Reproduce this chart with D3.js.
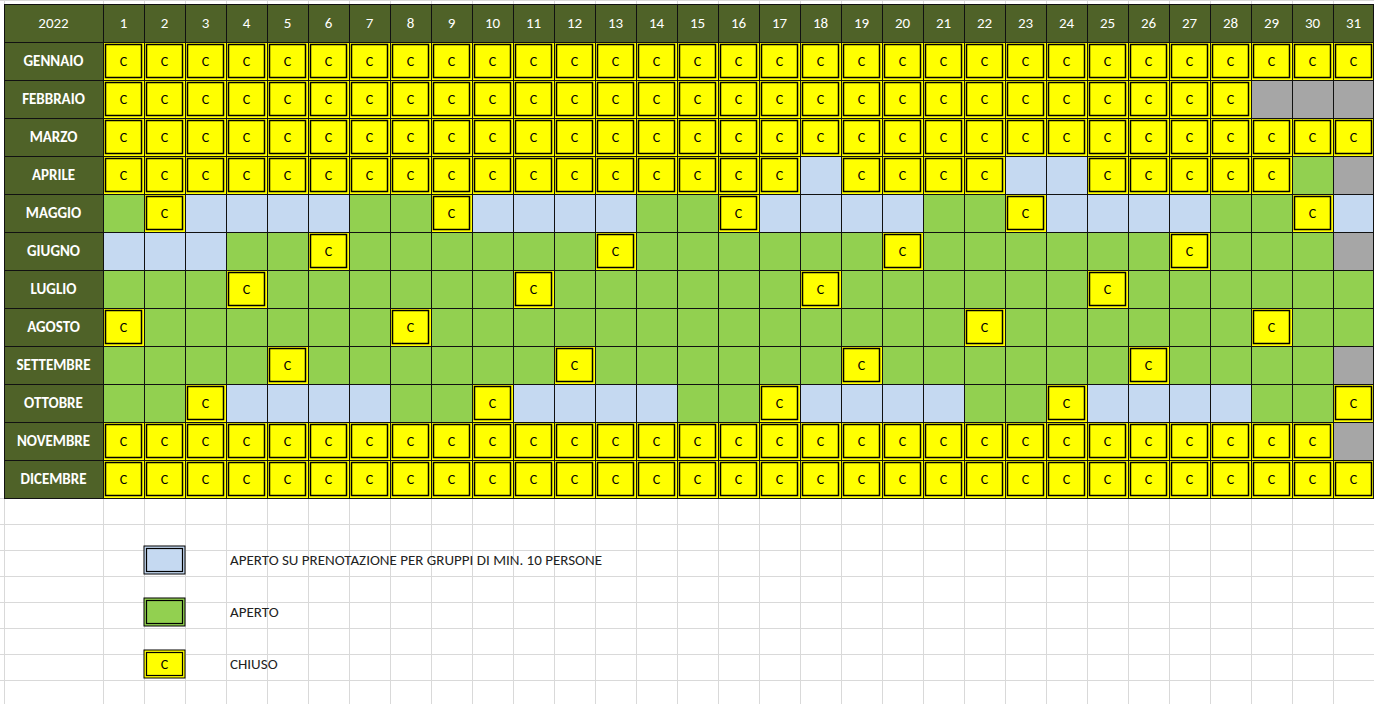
<!DOCTYPE html>
<html><head><meta charset="utf-8">
<script src="https://cdn.jsdelivr.net/npm/d3@7"></script>
<style>body{margin:0;background:#fff}svg{display:block}</style>
</head><body><div id="chart"></div>
<script>
// C = chiuso, G = aperto, B = su prenotazione, X = giorno inesistente
const year = '2022';
const days = d3.range(1, 32);
const months = ['GENNAIO','FEBBRAIO','MARZO','APRILE','MAGGIO','GIUGNO','LUGLIO','AGOSTO','SETTEMBRE','OTTOBRE','NOVEMBRE','DICEMBRE'];
const status = [
  'CCCCCCCCCCCCCCCCCCCCCCCCCCCCCCC',
  'CCCCCCCCCCCCCCCCCCCCCCCCCCCCXXX',
  'CCCCCCCCCCCCCCCCCCCCCCCCCCCCCCC',
  'CCCCCCCCCCCCCCCCCBCCCCBBCCCCCGX',
  'GCBBBBGGCBBBBGGCBBBBGGCBBBBGGCB',
  'BBBGGCGGGGGGCGGGGGGCGGGGGGCGGGX',
  'GGGCGGGGGGCGGGGGGCGGGGGGCGGGGGG',
  'CGGGGGGCGGGGGGGGGGGGGCGGGGGGCGG',
  'GGGGCGGGGGGCGGGGGGCGGGGGGCGGGGX',
  'GGCBBBBGGCBBBBGGCBBBBGGCBBBBGGC',
  'CCCCCCCCCCCCCCCCCCCCCCCCCCCCCCX',
  'CCCCCCCCCCCCCCCCCCCCCCCCCCCCCCC'
];
const legend = [
  {code:'B', label:'APERTO SU PRENOTAZIONE PER GRUPPI DI MIN. 10 PERSONE'},
  {code:'G', label:'APERTO'},
  {code:'C', label:'CHIUSO'}
];
const colors = {C:'#ffff00', G:'#92d050', B:'#c5d9f1', X:'#a6a6a6'};

const W = 1374, H = 704;
const leftX = 4, topY = 4, labelW = 99, cellW = 41, rowH = 38;
const svg = d3.select('#chart').append('svg').attr('width', W).attr('height', H)
  .style('font-family', 'Calibri, Carlito, "Open Sans", sans-serif');

const x = d3.scaleBand().domain(days).range([leftX + labelW, leftX + labelW + cellW * 31]);
const y = d3.scaleBand().domain(['h', ...months]).range([topY, topY + rowH * 13]);

// excel background grid
const gridRows = d3.range(topY + rowH * 13, H + 26, 26);
const grid = svg.append('g').attr('stroke', '#d9d9d9').attr('stroke-width', 1);
grid.selectAll('.hl').data(gridRows).join('line')
  .attr('x1', 0).attr('x2', W).attr('y1', d => d + 0.5).attr('y2', d => d + 0.5);
grid.selectAll('.vl').data([leftX, ...days.map(d => x(d)), x(31) + cellW]).join('line')
  .attr('x1', d => d + 0.5).attr('x2', d => d + 0.5).attr('y1', 0).attr('y2', H);
grid.append('line').attr('x1', 0).attr('x2', W).attr('y1', 0.5).attr('y2', 0.5);

// header row and label column
const dark = '#4f6228';
svg.append('rect').attr('x', leftX).attr('y', topY).attr('width', labelW + cellW * 31).attr('height', rowH).attr('fill', dark);
svg.append('rect').attr('x', leftX).attr('y', topY).attr('width', labelW).attr('height', rowH * 13).attr('fill', dark);

svg.append('text').attr('x', leftX + labelW / 2).attr('y', y('h') + rowH / 2 + 5)
  .attr('text-anchor', 'middle').attr('fill', '#fff').attr('font-size', 15).text(year);
svg.selectAll('.dayl').data(days).join('text')
  .attr('x', d => x(d) + cellW / 2).attr('y', y('h') + rowH / 2 + 5)
  .attr('text-anchor', 'middle').attr('fill', '#fff').attr('font-size', 15).text(d => d);
svg.selectAll('.monl').data(months).join('text')
  .attr('x', leftX + labelW / 2).attr('y', d => y(d) + rowH / 2 + 5)
  .attr('text-anchor', 'middle').attr('fill', '#fff').attr('font-size', 15).attr('font-weight', 'bold').text(d => d);

// cells
const cells = [];
months.forEach((m, i) => days.forEach((d, j) => cells.push({m, d, s: status[i][j]})));
const cg = svg.append('g');
cg.selectAll('rect.cell').data(cells).join('rect')
  .attr('x', c => x(c.d)).attr('y', c => y(c.m)).attr('width', cellW).attr('height', rowH)
  .attr('fill', c => colors[c.s]);
cg.selectAll('rect.box').data(cells.filter(c => c.s === 'C')).join('rect')
  .attr('x', c => x(c.d) + 2.5).attr('y', c => y(c.m) + 2.5).attr('width', cellW - 5).attr('height', rowH - 5)
  .attr('fill', 'none').attr('stroke', '#000').attr('stroke-width', 1.5);
cg.selectAll('text').data(cells.filter(c => c.s === 'C')).join('text')
  .attr('x', c => x(c.d) + cellW / 2).attr('y', c => y(c.m) + rowH / 2 + 5)
  .attr('text-anchor', 'middle').attr('font-size', 14).attr('fill', '#000').text('C');

// table lines
const lines = svg.append('g').attr('stroke', '#111').attr('stroke-width', 1);
lines.selectAll('.h').data(d3.range(14)).join('line')
  .attr('x1', leftX).attr('x2', x(31) + cellW).attr('y1', i => topY + i * rowH + 0.5).attr('y2', i => topY + i * rowH + 0.5);
lines.selectAll('.v').data([leftX, ...days.map(d => x(d)), x(31) + cellW - 1]).join('line')
  .attr('x1', d => d + 0.5).attr('x2', d => d + 0.5).attr('y1', topY).attr('y2', topY + rowH * 13);

// legend
const lg = svg.append('g');
const ly = [546, 598, 650];
legend.forEach((l, i) => {
  lg.append('rect').attr('x', 144).attr('y', ly[i]).attr('width', 41).attr('height', 28)
    .attr('fill', colors[l.code]).attr('stroke', '#000').attr('stroke-width', 1);
  lg.append('rect').attr('x', 146.5).attr('y', ly[i] + 2.5).attr('width', 36).attr('height', 23)
    .attr('fill', 'none').attr('stroke', '#000').attr('stroke-width', 1.2);
  if (l.code === 'C') lg.append('text').attr('x', 164.5).attr('y', ly[i] + 19).attr('text-anchor', 'middle')
    .attr('font-size', 14).text('C');
  lg.append('text').attr('x', 230).attr('y', ly[i] + 19).attr('font-size', 15).attr('fill', '#222').text(l.label);
});
</script></body></html>
